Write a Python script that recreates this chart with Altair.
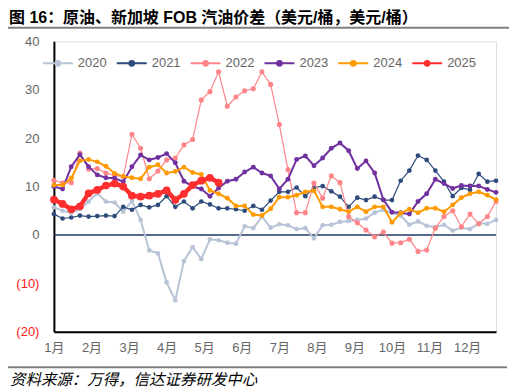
import altair as alt
import pandas as pd

years = ["2020", "2021", "2022", "2023", "2024", "2025"]
month_labels = ["1月", "2月", "3月", "4月", "5月", "6月", "7月", "8月", "9月", "10月", "11月", "12月"]

v2020 = [5.7, 5.0, 4.6, 5.3, 6.9, 8.6, 6.9, 6.7, 4.8, 7.0, 3.1, -3.2, -3.8, -9.8, -13.5, -5.4, -2.5, -5.0,
         -0.9, -1.1, -1.6, -1.8, 1.8, 1.4, 3.8, 1.5, 2.2, 2.0, 1.2, 1.4, -0.7, 2.0, 2.1, 2.7, 2.9, 3.1,
         3.4, 4.6, 5.2, 4.6, 4.0, 2.1, 2.8, 1.9, 1.6, 2.1, 0.9, 1.5, 1.2, 2.4, 2.3, 3.1]
v2021 = [4.3, 3.4, 3.6, 4.0, 3.8, 3.9, 4.0, 3.9, 5.8, 5.2, 6.2, 5.7, 6.2, 8.0, 5.8, 6.9, 5.5, 6.9,
         6.3, 5.5, 5.5, 5.3, 5.0, 6.0, 5.2, 7.1, 8.9, 8.9, 9.8, 8.0, 9.8, 10.1, 9.0, 7.9, 5.8, 7.7,
         7.2, 7.9, 7.2, 7.2, 11.2, 13.3, 16.4, 15.5, 13.3, 11.0, 8.0, 9.7, 9.3, 12.6, 11.0, 11.2]
v2022 = [11.3, 10.7, 10.8, 16.9, 13.6, 13.7, 12.8, 12.3, 12.0, 20.8, 17.9, 11.6, 13.2, 15.5, 15.9, 18.6, 19.7, 27.9,
         29.6, 33.7, 26.6, 28.5, 29.8, 30.2, 33.7, 31.1, 22.8, 13.5, 4.6, 4.6, 10.7, 7.6, 12.2, 10.8, 3.8, 2.5,
         1.0, -0.4, 0.6, -1.7, -1.6, -0.9, -3.4, -3.1, 1.4, 3.8, 5.0, 1.7, 4.3, 2.3, 3.8, 6.9]
v2023 = [10.0, 9.5, 14.1, 16.6, 14.1, 12.4, 11.8, 11.7, 11.0, 14.1, 16.5, 15.5, 16.0, 16.8, 14.9, 11.1, 10.0, 9.5,
         8.0, 9.7, 11.1, 11.5, 13.0, 14.0, 12.8, 12.2, 9.5, 11.5, 15.6, 16.3, 14.3, 15.9, 17.9, 19.0, 17.4, 13.7,
         15.3, 12.8, 7.3, 4.7, 4.6, 4.3, 6.9, 8.5, 11.5, 10.6, 9.6, 10.2, 10.1, 10.1, 9.4, 8.8]
v2024 = [10.3, 10.3, 11.7, 15.3, 15.6, 15.1, 14.2, 12.7, 12.1, 11.8, 11.6, 14.0, 14.5, 12.8, 13.1, 14.0, 12.9, 12.5,
         9.2, 8.5, 7.6, 6.0, 6.0, 4.2, 4.0, 5.4, 7.8, 7.8, 8.2, 8.9, 9.1, 5.8, 5.8, 5.3, 4.8, 5.8,
         4.8, 5.8, 5.8, 2.6, 4.5, 5.3, 4.6, 5.5, 5.5, 4.8, 6.2, 7.7, 8.5, 8.9, 8.2, 7.3]
v2025 = [7.3, 6.4, 5.3, 5.9, 8.6, 9.3, 10.2, 10.6, 10.0, 8.1, 7.9, 8.1, 8.5, 9.2, 7.2, 8.5, 10.3, 11.2,
         11.8, 10.8]

series = [v2020, v2021, v2022, v2023, v2024, v2025]
title_text = "图 16：原油、新加坡 FOB 汽油价差（美元/桶，美元/桶）"
source_text = "资料来源：万得，信达证券研发中心"

colors = ["#b7c3d6", "#2f4b7c", "#ff8589", "#7030a0", "#ff9a00", "#ff2f2f"]
line_colors = ["#b7c3d6", "#6f82a3", "#ff9a9d", "#7030a0", "#ff9a00", "#ff2f2f"]
widths = [2, 1.2, 1.2, 2, 2, 4.5]
sizes = [22, 22, 26, 24, 24, 60]

rows = []
for y, vals in zip(years, series):
    for i, v in enumerate(vals):
        rows.append({"week": i, "value": v, "year": y})
df = pd.DataFrame(rows)

LABEL_FONT = "Liberation Sans, Noto Sans CJK SC"
month_pos = [i * 52 / 12 for i in range(12)]

x_enc = alt.X("week:Q", scale=alt.Scale(domain=[0, 51], nice=False, zero=False),
              axis=alt.Axis(values=month_pos, labelExpr="round(datum.value*12/52)+1 + '月'",
                            title=None, grid=False, ticks=False, tickSize=0, domainColor="#000000",
                            domainWidth=2, labelColor="#666666", labelFontSize=13, labelFont=LABEL_FONT,
                            labelPadding=10, labelOverlap=False, labelFlush=False))
y_enc = alt.Y("value:Q", scale=alt.Scale(domain=[-20, 40], nice=False),
              axis=alt.Axis(values=[-20, -10, 0, 10, 20, 30, 40],
                            labelExpr="datum.value < 0 ? '(' + abs(datum.value) + ')' : datum.value",
                            labelColor=alt.condition("datum.value < 0", alt.value("#ff2020"), alt.value("#666666")),
                            title=None, grid=False, ticks=False, tickSize=0, domainColor="#000000",
                            domainWidth=2, labelFontSize=13, labelFont=LABEL_FONT, labelPadding=15))

color_scale = alt.Scale(domain=years, range=colors)
legend = alt.Legend(title=None, orient="none", direction="horizontal", legendX=-12, legendY=6,
                    symbolType="M-1,0H1M-0.16,0A0.16,0.16 0 1,0 0.16,0A0.16,0.16 0 1,0 -0.16,0Z",
                    symbolSize=900, symbolStrokeWidth=2, labelFontSize=13, labelColor="#666666",
                    labelFont=LABEL_FONT, labelOffset=4, columnPadding=6, padding=0)

zero = alt.Chart(pd.DataFrame({"z": [0]})).mark_rule(color="#1f3864", strokeWidth=1.5).encode(
    y=alt.Y("z:Q"))

layers = [zero]
for k, y in enumerate(years):
    sub = df[df.year == y]
    base = alt.Chart(sub)
    line = base.mark_line(strokeWidth=widths[k], color=line_colors[k]).encode(
        x=x_enc, y=y_enc,
        stroke=alt.Stroke("year:N", scale=color_scale, legend=legend))
    pts = base.mark_circle(size=sizes[k], opacity=1).encode(
        x=x_enc, y=y_enc,
        fill=alt.Fill("year:N", scale=color_scale, legend=legend))
    layers += [line, pts]

title = alt.Chart(pd.DataFrame({"t": [title_text]})).mark_text(
    align="left", baseline="middle", fontSize=16, fontWeight="bold", font=LABEL_FONT, color="#000000"
).encode(text="t:N", x=alt.value(-45), y=alt.value(-23.5))
top_rule = alt.Chart(pd.DataFrame({"t": [0]})).mark_rule(color="#808080", strokeWidth=2).encode(
    x=alt.value(-46), x2=alt.value(456), y=alt.value(-13.5))
bottom_rule = alt.Chart(pd.DataFrame({"t": [0]})).mark_rule(color="#808080", strokeWidth=2).encode(
    x=alt.value(-46), x2=alt.value(454), y=alt.value(326.5))
source = alt.Chart(pd.DataFrame({"t": [source_text]})).mark_text(
    align="left", baseline="middle", fontSize=15.5, fontStyle="italic", font="Noto Sans CJK SC", color="#000000"
).encode(text="t:N", x=alt.value(-44), y=alt.value(339))

chart = alt.layer(*layers, title, top_rule, bottom_rule, source).properties(
    width=443, height=291,
    padding={"left": 46, "top": 33, "right": 14, "bottom": 60},
    autosize=alt.AutoSizeParams(type="none"),
).configure_view(stroke="#000000", strokeWidth=1.5).configure(background="white")

chart.save("out.html", embed_options={"renderer": "svg", "actions": False})
